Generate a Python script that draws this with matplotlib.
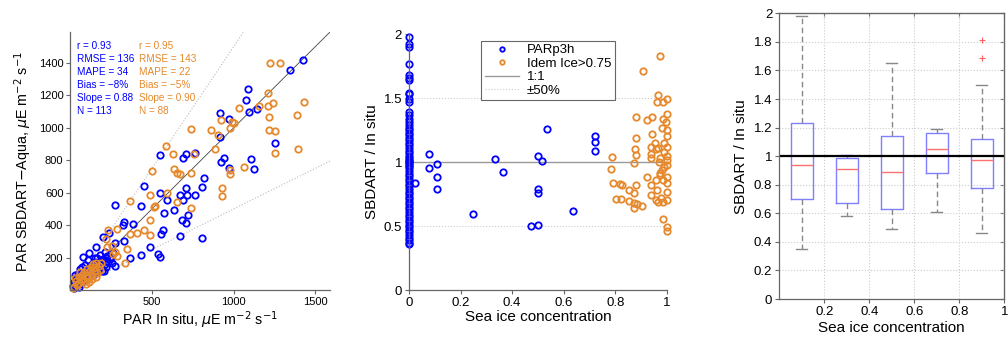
import matplotlib.pyplot as plt
import numpy as np

plt.rcParams['font.family'] = ['Liberation Sans', 'DejaVu Sans']

BLUE = '#0000ff'
ORANGE = '#e5892c'

# ---- panel 1: SBDART vs in situ PAR
blue_x = [1425, 1344, 1086, 1078, 1094, 1146, 914, 914, 971, 1253, 1109, 1125, 971, 940, 920,
          765, 711, 690, 551, 821, 807, 765, 707, 715, 674, 690, 633, 592, 547, 576, 567, 557,
          453, 431, 274, 684, 719, 707, 674, 805, 383, 326, 320, 330, 367, 433, 490, 535, 547,
          274, 274, 254, 236, 198, 158, 117, 76, 207, 203,
          20, 25, 30, 35, 40, 45, 50, 55, 60, 65, 70, 75, 80, 85, 90, 95, 100, 105, 110, 115,
          120, 125, 130, 135, 140, 145, 150, 155, 160, 165, 170, 175, 180, 185, 190, 195, 200,
          210, 215, 220, 225, 230, 240, 250, 260, 28, 45, 60, 90, 110, 150, 18, 22, 38, 52, 70]
blue_y = [1418, 1359, 1237, 1169, 1098, 1114, 1094, 945, 1057, 908, 806, 745, 751, 812, 788,
          843, 839, 812, 833, 690, 633, 588, 629, 588, 588, 557, 496, 557, 598, 476, 373, 343,
          639, 520, 527, 435, 465, 414, 333, 318, 410, 418, 402, 302, 200, 214, 267, 224, 206,
          292, 149, 165, 353, 327, 265, 231, 204, 118, 194,
          15, 30, 20, 45, 35, 60, 40, 70, 55, 90, 50, 80, 100, 65, 120, 85, 110, 75, 130, 95,
          150, 105, 160, 120, 90, 140, 175, 110, 150, 200, 130, 165, 215, 140, 180, 120, 190,
          160, 235, 140, 210, 175, 190, 205, 230, 90, 100, 130, 155, 185, 200, 25, 50, 75, 20, 140]

orange_x = [1226, 1283, 1429, 1209, 1240, 1209, 1158, 1217, 1033, 1217, 1253, 1388, 1392, 1256,
            1064, 976, 980, 930, 930, 859, 904, 922, 988, 1002, 977, 883, 736, 756, 586, 629,
            637, 653, 674, 739, 500, 739, 653, 592, 518, 514, 488, 488, 453, 488, 367, 410, 367,
            346, 336, 285, 258, 285, 274, 264, 219, 233, 223,
            15, 25, 35, 40, 50, 55, 65, 70, 80, 85, 90, 100, 105, 110, 120, 125, 130, 140, 145,
            150, 160, 165, 175, 180, 190, 30, 60, 95, 115, 135, 155]
orange_y = [1400, 1400, 1159, 1214, 1153, 1137, 1135, 1067, 1124, 986, 982, 1078, 869, 847,
            757, 716, 741, 629, 582, 988, 955, 1047, 1037, 1027, 996, 867, 990, 839, 888, 839,
            745, 720, 716, 720, 731, 506, 541, 598, 516, 512, 588, 435, 373, 339, 551, 353, 343,
            251, 165, 378, 271, 210, 235, 220, 312, 373, 265,
            12, 22, 55, 30, 80, 45, 60, 95, 70, 110, 55, 90, 130, 75, 115, 145, 95, 160, 120,
            140, 170, 105, 150, 125, 165, 75, 110, 35, 50, 70, 80]

stat_names = ['r', 'RMSE', 'MAPE', 'Bias', 'Slope', 'N']
blue_stats = ['0.93', '136', '34', '\u22128%', '0.88', '113']
orange_stats = ['0.95', '143', '22', '\u22125%', '0.90', '88']

# ---- panel 2: ratio vs sea ice concentration
zero_ratio = [1.98, 1.92, 1.90, 1.77, 1.68, 1.66, 1.64, 1.54, 1.53, 1.49, 1.47, 1.39, 1.37,
              1.34, 1.31, 1.29, 1.27, 1.25, 1.23, 1.21, 1.19, 1.17, 1.15, 1.13, 1.11, 1.09,
              1.07, 1.05, 1.03, 1.02, 1.01, 1.00, 0.99, 0.98, 0.97, 0.95, 0.93, 0.91, 0.89,
              0.87, 0.85, 0.83, 0.81, 0.79, 0.77, 0.75, 0.73, 0.71, 0.69, 0.67, 0.65, 0.63,
              0.61, 0.59, 0.57, 0.55, 0.53, 0.51, 0.49, 0.47, 0.45, 0.43, 0.41, 0.39, 0.37, 0.36]
blue_ice = [0.025, 0.078, 0.078, 0.110, 0.110, 0.110, 0.247, 0.334, 0.365, 0.472, 0.502,
            0.501, 0.515, 0.502, 0.502, 0.534, 0.635, 0.72, 0.72, 0.72]
blue_ratio = [0.84, 1.064, 0.952, 0.986, 0.887, 0.793, 0.592, 1.022, 0.923, 0.501, 0.506,
              1.051, 1.007, 0.793, 0.761, 1.257, 0.618, 1.205, 1.153, 1.090]
orange_ice = [0.974, 0.909, 0.965, 0.961, 0.984, 1.0, 0.880, 0.922, 0.944, 0.984, 1.0, 0.997,
              0.944, 0.880, 0.877, 0.880, 0.871, 0.955, 0.939, 0.939, 0.939, 0.787, 0.783, 0.79,
              0.819, 0.825, 0.803, 0.821, 0.855, 0.871, 0.880, 0.853, 0.871, 0.871, 0.884, 0.903,
              0.922, 0.939, 0.939, 0.96, 0.961, 0.957, 0.966, 0.978, 0.984, 1.0, 1.0, 1.0, 1.0,
              0.984, 1.0, 1.0, 0.974, 0.981, 0.972, 1.0, 1.0, 1.0, 0.981, 0.964, 0.99, 1.0, 0.97,
              0.99, 1.0, 0.96, 0.975, 0.99, 1.0, 0.985]
orange_ratio = [1.830, 1.708, 1.525, 1.468, 1.468, 1.49, 1.350, 1.33, 1.356, 1.34, 1.377, 1.317,
                1.22, 1.192, 1.103, 1.053, 0.991, 1.147, 1.121, 1.064, 1.03, 1.043, 0.949, 0.834,
                0.829, 0.821, 0.709, 0.709, 0.782, 0.761, 0.819, 0.699, 0.683, 0.639, 0.673, 0.66,
                0.881, 0.821, 0.743, 0.86, 0.782, 0.704, 0.691, 0.717, 0.686, 0.704, 0.769, 0.834,
                0.887, 0.555, 0.495, 0.464, 0.913, 0.939, 1.03, 1.2, 1.25, 1.12, 1.265, 1.108,
                1.08, 1.05, 1.0, 0.96, 0.98, 1.1, 0.9, 1.15, 1.02, 0.86]

# ---- panel 3: box stats per ice bin
box_pos = [0.1, 0.3, 0.5, 0.7, 0.9]
box_low = [0.35, 0.58, 0.49, 0.61, 0.46]
box_q1 = [0.70, 0.67, 0.63, 0.88, 0.78]
box_med = [0.94, 0.91, 0.89, 1.05, 0.97]
box_q3 = [1.23, 0.99, 1.14, 1.16, 1.12]
box_high = [1.98, 1.01, 1.65, 1.19, 1.50]
box_fliers = [[], [], [], [], [1.69, 1.81]]

fig = plt.figure(figsize=(10.08, 3.47), dpi=100)
ax1 = fig.add_axes([0.0698, 0.164, 0.2575, 0.7435])
ax2 = fig.add_axes([0.4058, 0.164, 0.2557, 0.7378])
ax3 = fig.add_axes([0.7731, 0.1383, 0.2232, 0.8234])

mk = dict(marker='o', linestyle='none', markerfacecolor='none', markersize=4.6,
          markeredgewidth=1.3, clip_on=False)

# panel 1
lim = 1590
ax1.plot([0, lim], [0, lim], color='#444444', lw=0.6, zorder=1)
ax1.plot([0, lim], [0, lim * 0.5], color='#bbbbbb', lw=0.8, ls=':', zorder=1)
ax1.plot([0, lim / 1.5], [0, lim], color='#bbbbbb', lw=0.8, ls=':', zorder=1)
ax1.plot(blue_x, blue_y, color=BLUE, **mk)
ax1.plot(orange_x, orange_y, color=ORANGE, **mk)
ax1.set_xlim(0, lim)
ax1.set_ylim(0, lim)
ax1.set_xticks([500, 1000, 1500])
ax1.set_yticks([200, 400, 600, 800, 1000, 1200, 1400])
ax1.set_xlabel(r'PAR In situ, $\mu$E m$^{-2}$ s$^{-1}$', fontsize=10.3, labelpad=2)
ax1.set_ylabel(r'PAR SBDART$-$Aqua, $\mu$E m$^{-2}$ s$^{-1}$', fontsize=10.3, labelpad=3)
for i, name in enumerate(stat_names):
    y = 1506 - i * 80
    ax1.text(42, y, f'{name} = {blue_stats[i]}', color=BLUE, fontsize=7.2, va='center')
    ax1.text(420, y, f'{name} = {orange_stats[i]}', color=ORANGE, fontsize=7.2, va='center')

# panel 2
ax2.axhline(1, color='#999999', lw=1.0, zorder=1, label='1:1')
ax2.axhline(1.5, color='#cccccc', lw=0.8, ls=':', zorder=1, label='\u00b150%')
ax2.axhline(0.5, color='#cccccc', lw=0.8, ls=':', zorder=1)
ax2.plot([0] * len(zero_ratio) + blue_ice, zero_ratio + blue_ratio, color=BLUE, label='PARp3h', **mk)
ax2.plot(orange_ice, orange_ratio, color=ORANGE, label='Idem Ice>0.75', **mk)
ax2.set_xlim(0, 1)
ax2.set_ylim(0, 2)
ax2.set_xticks([0, 0.2, 0.4, 0.6, 0.8, 1.0])
ax2.set_xticklabels(['0', '0.2', '0.4', '0.6', '0.8', '1'])
ax2.set_yticks([0, 0.5, 1, 1.5, 2])
ax2.set_yticklabels(['0', '0.5', '1', '1.5', '2'])
ax2.set_xlabel('Sea ice concentration', fontsize=11, labelpad=1)
ax2.set_ylabel('SBDART / In situ', fontsize=11, labelpad=3)
hs, ls = ax2.get_legend_handles_labels()
order = [ls.index('PARp3h'), ls.index('Idem Ice>0.75'), ls.index('1:1'), ls.index('\u00b150%')]
leg = ax2.legend([hs[i] for i in order], [ls[i] for i in order], loc='upper left',
                 bbox_to_anchor=(0.255, 1.0), fontsize=9.5, markerscale=0.7, fancybox=False,
                 framealpha=1, edgecolor='#666666', handlelength=2.6, borderpad=0.25,
                 labelspacing=0.1, handletextpad=0.6)
leg.get_frame().set_linewidth(0.8)

# panel 3
stats = []
for i in range(len(box_pos)):
    stats.append(dict(med=box_med[i], q1=box_q1[i], q3=box_q3[i], whislo=box_low[i],
                      whishi=box_high[i], fliers=box_fliers[i]))
ax3.yaxis.grid(True, ls=':', color='#cccccc', lw=0.8)
ax3.xaxis.grid(True, ls=':', color='#cccccc', lw=0.8)
ax3.set_axisbelow(True)
ax3.bxp(stats, positions=box_pos, widths=0.1, manage_ticks=False,
        boxprops=dict(color='#7f7fff', lw=1.0),
        medianprops=dict(color='#ff7070', lw=1.0),
        whiskerprops=dict(color='#888888', lw=1.0, ls=(0, (4, 2.5))),
        capprops=dict(color='#888888', lw=1.0),
        flierprops=dict(marker='+', markeredgecolor='#ff6060', markersize=4, markeredgewidth=0.8))
ax3.axhline(1, color='black', lw=1.6)
ax3.set_xlim(0, 1)
ax3.set_ylim(0, 2)
ax3.set_xticks([0.2, 0.4, 0.6, 0.8, 1.0])
ax3.set_xticklabels(['0.2', '0.4', '0.6', '0.8', '1'])
ax3.set_yticks(np.arange(0, 2.01, 0.2))
ax3.set_yticklabels(['0', '0.2', '0.4', '0.6', '0.8', '1', '1.2', '1.4', '1.6', '1.8', '2'])
ax3.set_xlabel('Sea ice concentration', fontsize=11, labelpad=2)
ax3.set_ylabel('SBDART / In situ', fontsize=11, labelpad=4)
sy = ax3.secondary_yaxis('right')
sy.set_yticks(np.arange(0, 2.01, 0.2))
sy.tick_params(direction='in', labelright=False, length=3, color='#666666')
sx = ax3.secondary_xaxis('top')
sx.set_xticks([0.2, 0.4, 0.6, 0.8, 1.0])
sx.tick_params(direction='in', labeltop=False, length=3, color='#666666')
for s in sy.spines.values():
    s.set_color('#666666')
for s in sx.spines.values():
    s.set_color('#666666')

for ax in (ax1, ax2):
    ax.spines['top'].set_visible(False)
    ax.spines['right'].set_visible(False)
for ax in (ax1, ax2, ax3):
    for s in ax.spines.values():
        s.set_color('#666666')
        s.set_linewidth(0.9)
ax1.tick_params(direction='out', length=3, labelsize=8, color='#666666', pad=2)
ax2.tick_params(direction='out', length=3, labelsize=9.5, color='#666666', pad=2)
ax3.tick_params(direction='out', length=3, labelsize=9.5, color='#666666', pad=2)

fig.savefig('out.png', dpi=100)
